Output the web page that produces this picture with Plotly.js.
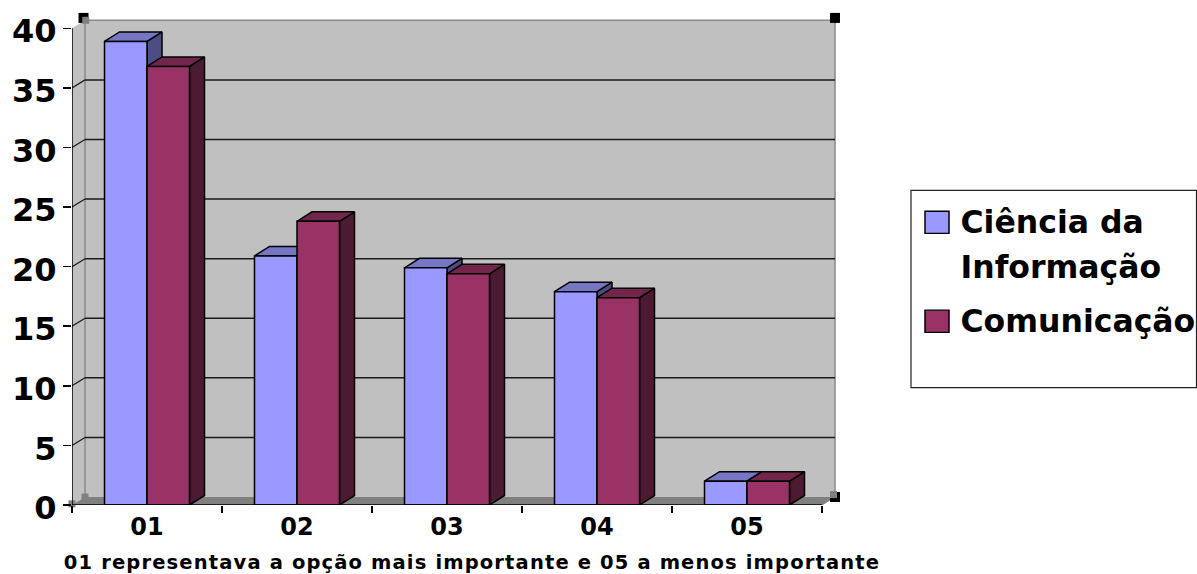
<!DOCTYPE html>
<html><head><meta charset="utf-8">
<script src="https://cdn.plot.ly/plotly-3.0.1.min.js"></script>
<style>html,body{margin:0;padding:0;background:#fff}
.xtitle{letter-spacing:1.15px}</style>
</head><body><div id="chart" style="width:1197px;height:574px"></div>
<script>
const categories = ['01','02','03','04','05'];
const cienciaValues = [38.9, 20.9, 19.9, 17.9, 2];
const comunicacaoValues = [36.8, 23.8, 19.4, 17.4, 2];
const yTicks = [0,5,10,15,20,25,30,35,40];
const seriesNames = ['Ciência da<br>Informação','Comunicação'];
const xTitle = '01 representava a opção mais importante e 05 a menos importante';

const W=1197,H=574,L=72,R=872,T=10,B=505.5;
const pxPerCat=150, pxPerUnit=11.93;
const yMax=(B-T)/pxPerUnit, xMin=-0.5, xMax=xMin+(R-L)/pxPerCat;
const barW=42.5/pxPerCat, depthX=15/pxPerCat, depthY=9.5/pxPerUnit, wallX=13/pxPerCat, wallY=8/pxPerUnit;
const catEnd=categories.length-0.5;
const fnt={family:'"DejaVu Sans", Verdana, sans-serif',color:'#000',weight:700};
const px=p=>(p-L)/(R-L), py=p=>(B-p)/(B-T);

function faces(vals,off,topCol,sideCol){
  const tx=[],ty=[],sx=[],sy=[];
  vals.forEach((v,i)=>{
    const a=i+off,b=a+barW;
    tx.push(a,b,b+depthX,a+depthX,a,null); ty.push(v,v,v+depthY,v+depthY,v,null);
    sx.push(b,b+depthX,b+depthX,b,b,null); sy.push(0,depthY,v+depthY,v,0,null);
  });
  const s=(x,y,c)=>({type:'scatter',mode:'lines',x:x,y:y,fill:'toself',fillcolor:c,line:{color:'#000',width:1.5},showlegend:false,hoverinfo:'skip',xaxis:'x',yaxis:'y'});
  return [s(sx,sy,sideCol),s(tx,ty,topCol)];
}
const bar=(vals,name,col,group)=>({type:'bar',x:categories.map((c,i)=>i),y:vals,legendgroup:group,
  name:name.split('<br>').map(s=>'<span style="font-size:31.5px">'+s+'</span>').join('<br>'),
  marker:{color:col,line:{color:'#000',width:1.5}},xaxis:'x2',yaxis:'y2'});

const handle=(x,y,c,sz)=>({type:'scatter',mode:'markers',x:x,y:y,marker:{symbol:'square',color:c,size:sz},cliponaxis:false,showlegend:false,hoverinfo:'skip',xaxis:'x2',yaxis:'y2'});

const traces=[
  ...faces(cienciaValues,-barW,'#7676C4','#4D4D85'),
  ...faces(comunicacaoValues,0,'#72264C','#4D1A33'),
  bar(cienciaValues,seriesNames[0],'#9999FF','a'),
  bar(comunicacaoValues,seriesNames[1],'#993366','b'),
  handle([xMin+wallX-0.01,xMin-0.005,catEnd+wallX,catEnd+wallX,xMin-0.005],[40+wallY+0.2,40-0.3,40+wallY+0.2,wallY,0],'#000',10),
  handle([xMin+wallX,xMin+wallX+0.005,catEnd+wallX-0.01,xMin],[wallY,40+wallY,wallY+0.2,0.1],'#808080',7)
];

const line=(x0,y0,x1,y1,c,w,layer)=>({type:'line',xref:'x',yref:'y',x0,y0,x1,y1,line:{color:c,width:w},layer:layer||'below'});
const shapes=[
  {type:'path',xref:'x',yref:'y',layer:'below',fillcolor:'#C0C0C0',line:{width:0},
   path:`M${xMin},0 L${xMin},40 L${xMin+wallX},${40+wallY} L${catEnd+wallX},${40+wallY} L${catEnd+wallX},${wallY} L${xMin+wallX},${wallY} Z`},
  {type:'path',xref:'x',yref:'y',layer:'below',fillcolor:'#808080',line:{width:0},
   path:`M${xMin},0 L${catEnd},0 L${catEnd+wallX},${wallY} L${xMin+wallX},${wallY} Z`},
  line(xMin+wallX,wallY,xMin+wallX,40+wallY,'#8A8A8A',1.5),
  line(xMin+wallX,40+wallY,catEnd+wallX,40+wallY,'#8A8A8A',1.5),
  line(catEnd+wallX,wallY,catEnd+wallX,40+wallY,'#8A8A8A',1.5),
  line(catEnd,0,catEnd+wallX,wallY,'#8A8A8A',1,'below')
];
yTicks.filter(t=>t>0&&t<40).forEach(t=>{
  shapes.push(line(xMin+wallX,t+wallY,catEnd+wallX,t+wallY,'#1A1A1A',1.5));
  shapes.push(line(xMin,t,xMin+wallX,t+wallY,'#1A1A1A',1.2));
});
shapes.push(line(xMin,0,xMin,40,'#000',1.5,'above'));
shapes.push(line(xMin,0,catEnd,0,'#000',1.5,'above'));
shapes.push({type:'rect',xref:'paper',yref:'paper',x0:px(911),x1:px(1196.5),y0:py(388),y1:py(190.5),line:{color:'#222',width:1.2},fillcolor:'rgba(0,0,0,0)',layer:'below'});

const layout={
  width:W,height:H,paper_bgcolor:'#fff',plot_bgcolor:'rgba(0,0,0,0)',
  margin:{l:L,r:W-R,t:T,b:H-B,pad:0,autoexpand:false},
  barmode:'group',bargap:1-2*barW,bargroupgap:0,
  xaxis:{type:'linear',range:[xMin,xMax],tickvals:categories.map((c,i)=>i),ticktext:categories,ticks:'',showgrid:false,zeroline:false,showline:false,
    tickfont:{...fnt,size:24},ticklabelstandoff:5,
    minor:{ticks:'outside',tick0:xMin,dtick:1,ticklen:7,tickwidth:1.5,tickcolor:'#000',showgrid:false},
    title:{text:xTitle,font:{...fnt,size:19.5},standoff:20}},
  yaxis:{range:[0,yMax],tickvals:yTicks,ticks:'outside',ticklen:8,tickwidth:1.5,tickcolor:'#000',showgrid:false,zeroline:false,showline:false,
    tickfont:{...fnt,size:32},ticklabelshift:3},
  xaxis2:{overlaying:'x',range:[xMin,xMax],visible:false},
  yaxis2:{overlaying:'y',range:[0,yMax],visible:false},
  shapes:shapes,
  showlegend:true,
  legend:{x:px(913.5),y:py(191),xanchor:'left',yanchor:'top',bgcolor:'rgba(0,0,0,0)',borderwidth:0,valign:'top',traceorder:'grouped',tracegroupgap:6,itemwidth:37,itemclick:false,itemdoubleclick:false,
    font:{...fnt,size:34.6}}
};

Plotly.newPlot('chart',traces,layout,{displayModeBar:false,staticPlot:true}).then(()=>{
  document.querySelectorAll('.legend .legendpoints path').forEach(p=>{
    p.setAttribute('transform',(p.getAttribute('transform')||'')+' translate(0,2.5) scale(2,1.85)');
    p.style.strokeWidth='0.75px';
  });
});
</script></body></html>
